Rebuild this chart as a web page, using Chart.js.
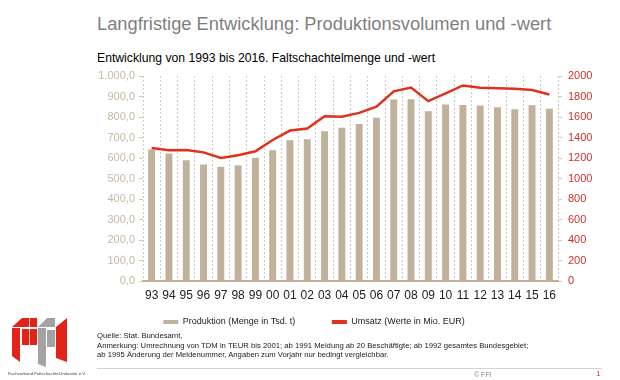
<!DOCTYPE html>
<html><head><meta charset="utf-8">
<script src="https://cdn.jsdelivr.net/npm/chart.js@4"></script>
<style>
html,body{margin:0;padding:0;background:#fff;width:620px;height:380px;overflow:hidden;position:relative;font-family:"Liberation Sans",Arial,sans-serif}
#c{position:absolute;left:0;top:0}
.t{position:absolute;white-space:nowrap;line-height:1}
</style></head><body>
<div class="t" style="left:97px;top:14.5px;font-size:18.3px;color:#7f7f7f">Langfristige Entwicklung: Produktionsvolumen und -wert</div>
<div class="t" style="left:97px;top:51.5px;font-size:12.2px;color:#000">Entwicklung von 1993 bis 2016. Faltschachtelmenge und -wert</div>
<canvas id="c" width="620" height="340" style="width:620px;height:340px"></canvas>
<div class="t" style="left:97px;top:331px;font-size:7.7px;line-height:9.7px;color:#222">Quelle: Stat. Bundesamt,<br>Anmerkung: Umrechnung von TDM in TEUR bis 2001; ab 1991 Meldung ab 20 Beschäftigte; ab 1992 gesamtes Bundesgebiet;<br>ab 1995 Änderung der Meldenummer, Angaben zum Vorjahr nur bedingt vergleichbar.</div>
<div style="position:absolute;left:97px;top:368px;width:505px;height:0;border-top:1px solid #d4d4d4"></div>
<div class="t" style="left:474px;top:371px;font-size:7px;color:#888">© FFI</div>
<div class="t" style="left:596px;top:370px;font-size:8px;color:#e03020">1</div>
<svg style="position:absolute;left:0;top:312px" width="80" height="68" viewBox="0 312 80 68">
  <polygon points="12,327 22,318 37,318 37,327" fill="#e2231a"/>
  <polygon points="12,328 20,328 20,362 12,356" fill="#e2231a"/>
  <rect x="22" y="329" width="15" height="16" fill="#e2231a"/>
  <line x1="29.5" y1="318" x2="29.5" y2="345" stroke="#fff" stroke-width="0.8"/>
  <polygon points="38,327 47,318 55,318 55,327" fill="#a3a3a3"/>
  <polygon points="38,328 46,328 46,367 38,364" fill="#a3a3a3"/>
  <rect x="47" y="330" width="8" height="17" fill="#a3a3a3"/>
  <polygon points="56,327 67,318 67,362 56,358" fill="#e2231a"/>
</svg>
<div class="t" style="left:8px;top:372px;font-size:4.3px;color:#444">Fachverband Faltschachtel-Industrie e.V.</div>
<script>
const categories = ['93','94','95','96','97','98','99','00','01','02','03','04','05','06','07','08','09','10','11','12','13','14','15','16'];
const production = [641,622,589,568,557,564,601,638,686,691,730,748,766,796,885,887,828,861,858,856,848,838,857,840];
const revenue = [1298,1276,1278,1255,1201,1227,1265,1376,1468,1487,1608,1603,1640,1700,1850,1888,1755,1830,1908,1885,1880,1876,1863,1820];
const leftTickLabels = ['0,0','100,0','200,0','300,0','400,0','500,0','600,0','700,0','800,0','900,0','1.000,0'];
const rightTickLabels = ['0','200','400','600','800','1000','1200','1400','1600','1800','2000'];
const seriesNames = ['Produktion (Menge in Tsd. t)','Umsatz (Werte in Mio. EUR)'];

const TAN = '#bfb19b';
const RED = '#e0301e';
Chart.defaults.font.family = '"Liberation Sans", Arial, sans-serif';

new Chart(document.getElementById('c'), {
  type: 'bar',
  data: {
    labels: categories,
    datasets: [
      {type:'bar', label: seriesNames[0], data: production, yAxisID:'y', backgroundColor: TAN, borderWidth:0,
       barPercentage:0.4, categoryPercentage:1, order:1},
      {type:'line', label: seriesNames[1], data: revenue, yAxisID:'y1', borderColor: RED, backgroundColor: RED,
       borderWidth:2.5, pointRadius:0, tension:0, order:0}
    ]
  },
  options: {
    responsive:false, maintainAspectRatio:false, animation:false, devicePixelRatio:1,
    layout:{padding:{top:76,left:18,right:10,bottom:3.5}},
    plugins:{
      title:{display:false}, tooltip:{enabled:false},
      legend:{position:'bottom', labels:{font:{size:9}, color:'#222', boxWidth:15, padding:36.5,
        generateLabels:(chart)=>{
          const items = Chart.defaults.plugins.legend.labels.generateLabels(chart);
          items.forEach(it=>{ it.lineWidth = 0; });
          return items;
        },
        boxHeight:4,
        sort:(a,b)=>a.datasetIndex-b.datasetIndex}}
    },
    scales:{
      x:{grid:{offset:true, color:'#c8c8c8', lineWidth:1, drawTicks:false},
         border:{display:true, color:TAN, width:2, dash:[2,2]},
         ticks:{color:'#222', font:{size:12}, mirror:true, padding:-21.7, maxRotation:0, autoSkip:false},
         afterFit:s=>{s.height=0;}},
      y:{position:'left', min:0, max:1000,
         ticks:{stepSize:100, color:'#c6b8a4', font:{size:11}, padding:4, callback:(v,i)=>leftTickLabels[i]},
         grid:{drawOnChartArea:false, drawTicks:true, tickLength:4, color:'#d3cabc'},
         border:{display:false},
         afterFit:s=>{s.width=125;}},
      y1:{position:'right', min:0, max:2000,
         ticks:{stepSize:200, color:'#d0302a', font:{size:11}, padding:6, callback:(v,i)=>rightTickLabels[i]},
         grid:{drawOnChartArea:false, drawTicks:true, tickLength:4, color:'#d3cabc'},
         border:{display:false},
         afterFit:s=>{s.width=52;}}
    }
  }
});
</script>
</body></html>
